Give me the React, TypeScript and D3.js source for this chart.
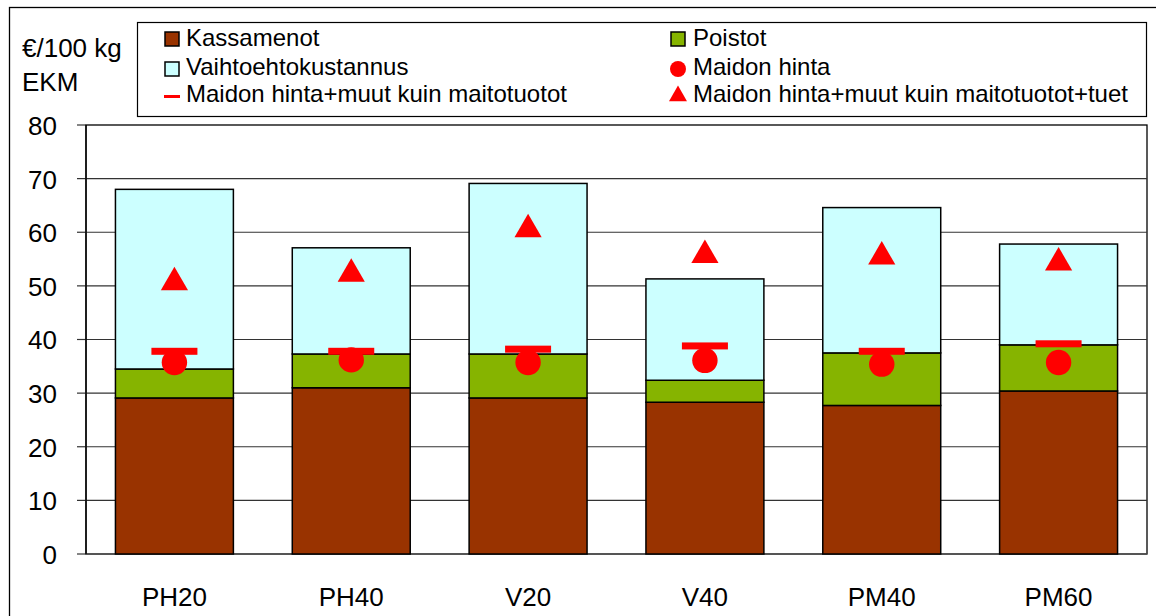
import React from "react";
import * as d3 from "d3";

const categories = ["PH20", "PH40", "V20", "V40", "PM40", "PM60"];
const kassamenot = [29.1, 31.0, 29.1, 28.3, 27.7, 30.4];
const poistot = [5.4, 6.3, 8.2, 4.1, 9.8, 8.6];
const vaihtoehto = [33.5, 19.8, 31.8, 18.9, 27.1, 18.8];
const maidonHinta = [35.7, 36.2, 35.7, 36.1, 35.4, 35.7];
const hintaMuut = [37.8, 37.8, 38.2, 38.8, 37.8, 39.2];
const hintaMuutTuet = [51.0, 52.6, 60.9, 56.1, 55.8, 54.7];
const yTicks = [0, 10, 20, 30, 40, 50, 60, 70, 80];

const C_BROWN = "#993300";
const C_GREEN = "#86b400";
const C_CYAN = "#ccffff";
const C_RED = "#ff0000";
const FONT = "'Liberation Sans', Arial, sans-serif";

const W = 1156;
const H = 616;
const plot = { left: 86, right: 1147, top: 125, bottom: 554 };

export default function App() {
  const x = d3
    .scaleBand<string>()
    .domain(categories)
    .range([plot.left, plot.right])
    .paddingInner(0.333)
    .paddingOuter(0.1665);
  const y = d3.scaleLinear().domain([0, 80]).range([plot.bottom, plot.top]);

  const triangle = d3.symbol().type(d3.symbolTriangle).size(320);

  const stacks = categories.map((c, i) => {
    const a = kassamenot[i];
    const b = a + poistot[i];
    const t = b + vaihtoehto[i];
    return [
      { y0: 0, y1: a, fill: C_BROWN },
      { y0: a, y1: b, fill: C_GREEN },
      { y0: b, y1: t, fill: C_CYAN },
    ];
  });

  return (
    <svg
      width={W}
      height={H}
      style={{ position: "absolute", left: 0, top: 0, background: "#fff" }}
      fontFamily={FONT}
    >
      {/* outer frame */}
      <rect x={9.5} y={7.5} width={1160} height={700} fill="none" stroke="#000" strokeWidth={1.3} />

      {/* y title */}
      <text x={22} y={57} fontSize={26}>€/100 kg</text>
      <text x={22} y={91} fontSize={26}>EKM</text>

      {/* legend */}
      <g fontSize={24}>
        <rect x={137.5} y={22.5} width={1009} height={94} fill="#fff" stroke="#000" strokeWidth={1.2} />
        <rect x={165} y={32} width={14} height={14} fill={C_BROWN} stroke="#000" strokeWidth={1.5} />
        <text x={186} y={46}>Kassamenot</text>
        <rect x={165} y={62} width={14} height={14} fill={C_CYAN} stroke="#000" strokeWidth={1.5} />
        <text x={186} y={75}>Vaihtoehtokustannus</text>
        <rect x={164} y={95} width={16} height={3} fill={C_RED} />
        <text x={186} y={102}>Maidon hinta+muut kuin maitotuotot</text>
        <rect x={671} y={32} width={14} height={14} fill={C_GREEN} stroke="#000" strokeWidth={1.5} />
        <text x={693} y={46}>Poistot</text>
        <circle cx={678} cy={69} r={8} fill={C_RED} />
        <text x={693} y={75}>Maidon hinta</text>
        <path d={d3.symbol().type(d3.symbolTriangle).size(140)() || ""} transform="translate(678,96)" fill={C_RED} />
        <text x={693} y={102}>Maidon hinta+muut kuin maitotuotot+tuet</text>
      </g>

      {/* plot frame + grid */}
      <rect x={plot.left} y={plot.top} width={plot.right - plot.left} height={plot.bottom - plot.top} fill="#fff" stroke="#000" strokeWidth={1.3} />
      {yTicks.map((t) => (
        <g key={t}>
          {t > 0 && t < 80 && (
            <line x1={plot.left} x2={plot.right} y1={y(t)} y2={y(t)} stroke="#333" strokeWidth={1.2} />
          )}
          <line x1={77} x2={plot.left} y1={y(t)} y2={y(t)} stroke="#333" strokeWidth={1.2} />
          <text x={57} y={y(t)} dy="0.38em" textAnchor="end" fontSize={26}>{t}</text>
        </g>
      ))}
      <line x1={plot.left} x2={plot.right} y1={plot.bottom} y2={plot.bottom} stroke="#555" strokeWidth={1.5} />
      <line x1={plot.left} x2={plot.left} y1={plot.top} y2={plot.bottom} stroke="#000" strokeWidth={1.3} />

      {/* bars */}
      {categories.map((c, i) => (
        <g key={c}>
          {stacks[i].map((s, j) => (
            <rect
              key={j}
              x={x(c)}
              y={y(s.y1)}
              width={x.bandwidth()}
              height={y(s.y0) - y(s.y1)}
              fill={s.fill}
              stroke="#000"
              strokeWidth={1.5}
            />
          ))}
        </g>
      ))}

      {/* markers */}
      {categories.map((c, i) => {
        const cx = (x(c) || 0) + x.bandwidth() / 2;
        return (
          <g key={c} fill={C_RED}>
            <rect x={cx - 23} y={y(hintaMuut[i]) - 3.5} width={46} height={7} />
            <circle cx={cx} cy={y(maidonHinta[i])} r={12.7} />
            <path d={triangle() || ""} transform={`translate(${cx},${y(hintaMuutTuet[i]) + 2})`} />
          </g>
        );
      })}

      {/* category labels */}
      {categories.map((c) => (
        <text key={c} x={(x(c) || 0) + x.bandwidth() / 2} y={606} textAnchor="middle" fontSize={26}>
          {c}
        </text>
      ))}
    </svg>
  );
}
